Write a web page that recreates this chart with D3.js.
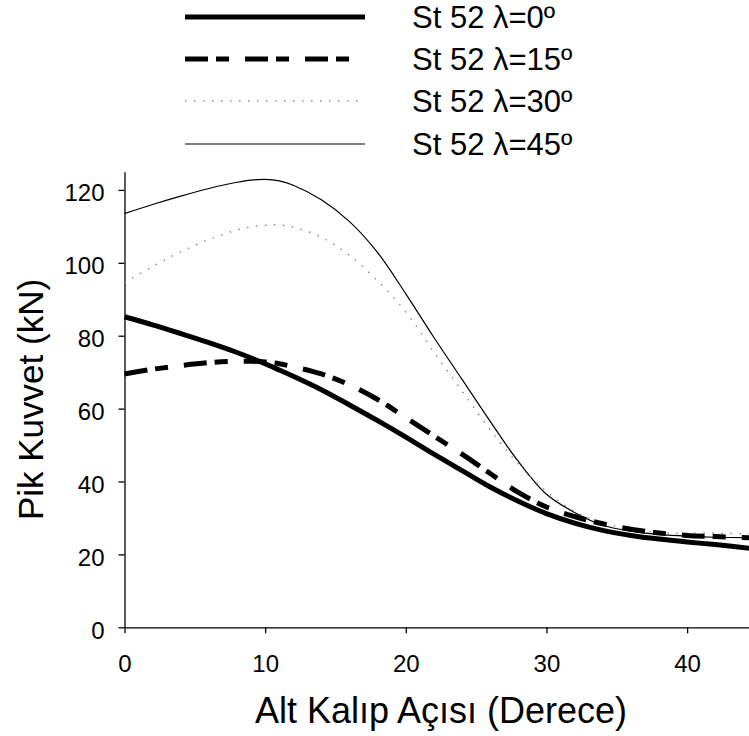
<!DOCTYPE html>
<html>
<head>
<meta charset="utf-8">
<script src="https://cdn.jsdelivr.net/npm/d3@7"></script>
<style>
  html, body { margin: 0; padding: 0; background: #fff; }
  svg { display: block; }
  text { font-family: "Liberation Sans", Arial, sans-serif; fill: #000; }
</style>
</head>
<body>
<svg id="chart" width="749" height="736"></svg>
<script>
// Alt kalıp açısı (derece) values at which peak force was read
const angles = [0, 2, 4, 6, 8, 9, 10, 11, 12, 14, 16, 18, 20, 22, 24, 26, 28, 30, 32, 34, 36, 38, 40, 42, 44.4];

// Peak force (kN) for each λ
const lambda0  = [85.2, 83.0, 80.6, 78.1, 75.4, 73.9, 72.3, 70.6, 68.9, 65.2, 61.0, 56.7, 52.2, 47.5, 43.0, 38.5, 34.6, 31.2, 28.6, 26.6, 25.2, 24.2, 23.4, 22.7, 21.7];
const lambda15 = [69.5, 70.8, 71.8, 72.6, 73.0, 73.0, 72.8, 72.3, 71.5, 69.5, 66.5, 62.5, 57.5, 52.5, 47.5, 42.2, 37.0, 33.0, 30.4, 28.4, 26.9, 25.9, 25.2, 24.9, 24.6];
const lambda30 = [94.5, 99.0, 103.0, 106.4, 109.0, 109.9, 110.3, 110.4, 109.8, 107.0, 102.0, 95.0, 86.5, 75.5, 64.8, 54.2, 44.8, 37.3, 31.8, 28.6, 27.0, 26.0, 25.8, 25.8, 25.6];
const lambda45 = [113.5, 116.0, 118.3, 120.4, 122.1, 122.7, 122.9, 122.5, 121.3, 117.3, 111.3, 102.8, 91.5, 79.5, 68.0, 56.5, 45.5, 36.5, 31.5, 28.0, 26.4, 25.5, 25.0, 24.7, 24.6];

const seriesNames = ["St 52 λ=0º", "St 52 λ=15º", "St 52 λ=30º", "St 52 λ=45º"];

const xTicks = [0, 10, 20, 30, 40];
const yTicks = [0, 20, 40, 60, 80, 100, 120];

const xTitle = "Alt Kalıp Açısı (Derece)";
const yTitle = "Pik Kuvvet (kN)";

// Line styles per series
const styles = [
  { width: 5,   color: "#000", dash: null },
  { width: 5,   color: "#000", dash: "23,8,13,16" },
  { width: 1.4, color: "#888", dash: "1.5,7.5" },
  { width: 1.2, color: "#000", dash: null }
];

const svg = d3.select("#chart");

const x = d3.scaleLinear().domain([0, 44.4]).range([124.5, 749]);
const y = d3.scaleLinear().domain([0, 125]).range([627.3, 171.7]);

// Axes
const xAxis = svg.append("g")
  .attr("transform", `translate(0,${y(0)})`)
  .call(d3.axisBottom(x).tickValues(xTicks).tickSize(6).tickSizeOuter(0).tickPadding(22));
const yAxis = svg.append("g")
  .attr("transform", `translate(${x(0)},0)`)
  .call(d3.axisLeft(y).tickValues(yTicks).tickSize(6).tickSizeOuter(0).tickPadding(14));

[xAxis, yAxis].forEach(g => {
  g.selectAll("path.domain").attr("stroke", "#000").attr("stroke-width", 1.3);
  g.selectAll(".tick line").attr("stroke", "#000").attr("stroke-width", 1.3);
  g.selectAll(".tick text")
    .attr("font-family", "'Liberation Sans', Arial, sans-serif")
    .attr("font-size", 24)
    .attr("fill", "#000");
});
yAxis.selectAll(".tick text").attr("dy", "0.45em");

// Axis titles, each centred on the full length of its axis (x axis runs to 45°)
const xAxisMid = (x(0) + x(45)) / 2;
svg.append("text")
  .attr("x", xAxisMid).attr("y", 723)
  .attr("text-anchor", "middle")
  .attr("font-size", 36)
  .text(xTitle);

svg.append("text")
  .attr("transform", `translate(43,${(y(0) + y(125)) / 2}) rotate(-90)`)
  .attr("text-anchor", "middle")
  .attr("font-size", 35)
  .text(yTitle);

// Curves
const allSeries = [lambda0, lambda15, lambda30, lambda45];
const line = d3.line()
  .x((d, i) => x(angles[i]))
  .y(d => y(d))
  .curve(d3.curveCatmullRom.alpha(0.5));

const plot = svg.append("g");
// draw thin lines first so the heavy ones sit on top
[3, 2, 1, 0].forEach(k => {
  const s = styles[k];
  plot.append("path")
    .datum(allSeries[k])
    .attr("d", line)
    .attr("fill", "none")
    .attr("stroke", s.color)
    .attr("stroke-width", s.width)
    .attr("stroke-dasharray", s.dash);
});

// Legend
const legendRows = [17, 59, 101, 144];
const legend = svg.append("g");
seriesNames.forEach((name, k) => {
  const s = styles[k];
  const ry = legendRows[k];
  legend.append("line")
    .attr("x1", 185).attr("x2", 365)
    .attr("y1", ry).attr("y2", ry)
    .attr("stroke", s.color)
    .attr("stroke-width", s.width)
    .attr("stroke-dasharray", s.dash);
  legend.append("text")
    .attr("x", 412).attr("y", ry + 11)
    .attr("font-size", 31)
    .text(name);
});
</script>
</body>
</html>
